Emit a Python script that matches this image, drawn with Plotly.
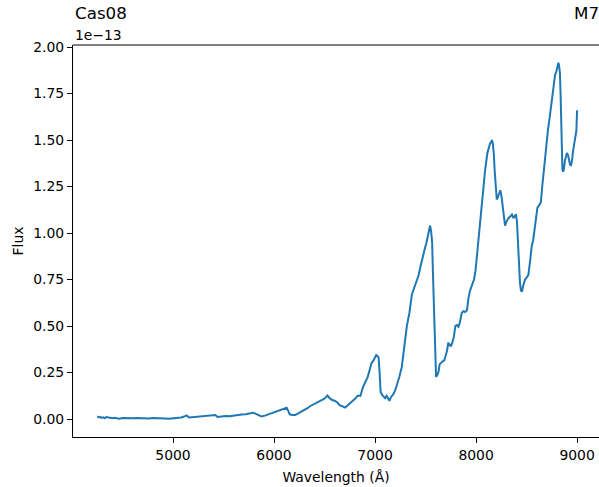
import plotly.graph_objects as go

# Spectrum of Cas08 (spectral type M7); flux in units of 1e-13
wavelength = [
    4250, 4265, 4280, 4295, 4310, 4325, 4340, 4360, 4380, 4400,
    4420, 4445, 4470, 4500, 4530, 4560, 4600, 4640, 4680, 4720,
    4760, 4800, 4840, 4880, 4920, 4960, 5000, 5040, 5080, 5110,
    5135, 5160, 5200, 5240, 5280, 5320, 5360, 5400, 5420, 5440,
    5480, 5520, 5560, 5600, 5640, 5680, 5720, 5760, 5790, 5810,
    5840, 5875, 5910, 5950, 5990, 6030, 6070, 6100, 6125, 6140,
    6155, 6180, 6210, 6240, 6270, 6300, 6330, 6360, 6390, 6420,
    6445, 6470, 6495, 6515, 6530, 6550, 6575, 6600, 6625, 6650,
    6675, 6705, 6730, 6755, 6780, 6805, 6830, 6855, 6880, 6905,
    6925, 6945, 6965, 6985, 7000, 7012, 7025, 7035, 7045, 7055,
    7070, 7085, 7100, 7115, 7130, 7142, 7160, 7180, 7200, 7220,
    7240, 7265, 7290, 7315, 7340, 7365, 7390, 7410, 7430, 7450,
    7470, 7490, 7510, 7530, 7545, 7555, 7565, 7575, 7585, 7595,
    7604, 7615, 7627, 7640, 7655, 7670, 7685, 7700, 7712, 7725,
    7738, 7750, 7765, 7780, 7795, 7810, 7825, 7840, 7858, 7874,
    7892, 7910, 7925, 7940, 7960, 7980, 7995, 8010, 8025, 8040,
    8055, 8072, 8090, 8112, 8125, 8138, 8150, 8158, 8166, 8175,
    8185, 8195, 8205, 8215, 8228, 8240, 8250, 8262, 8275, 8287,
    8300, 8320, 8340, 8355, 8370, 8385, 8395, 8405, 8415, 8425,
    8435, 8445, 8455, 8468, 8485, 8500, 8518, 8535, 8551, 8565,
    8580, 8595, 8607, 8625, 8641, 8655, 8667, 8685, 8700, 8713,
    8726, 8740, 8755, 8770, 8782, 8795, 8805, 8815, 8822, 8830,
    8836, 8841, 8848, 8855, 8862, 8870, 8880, 8890, 8900, 8910,
    8920, 8930, 8940, 8950, 8960, 8972, 8983, 8993, 9000,
]

flux_1e13 = [
    0.014, 0.010, 0.011, 0.006, 0.009, 0.005, 0.010, 0.007, 0.008, 0.004,
    0.007, 0.005, 0.002, 0.005, 0.004, 0.006, 0.004, 0.006, 0.004, 0.005,
    0.003, 0.005, 0.003, 0.004, 0.003, 0.002, 0.003, 0.005, 0.008, 0.013,
    0.019, 0.008, 0.010, 0.012, 0.011, 0.014, 0.016, 0.020, 0.021, 0.011,
    0.014, 0.016, 0.015, 0.019, 0.021, 0.024, 0.026, 0.029, 0.034, 0.030,
    0.021, 0.014, 0.018, 0.026, 0.033, 0.040, 0.048, 0.053, 0.060, 0.045,
    0.025, 0.022, 0.022, 0.030, 0.038, 0.046, 0.058, 0.070, 0.078, 0.088,
    0.092, 0.103, 0.108, 0.118, 0.126, 0.112, 0.102, 0.098, 0.090, 0.074,
    0.068, 0.062, 0.074, 0.088, 0.098, 0.110, 0.126, 0.124, 0.170, 0.200,
    0.222, 0.260, 0.300, 0.315, 0.330, 0.344, 0.338, 0.330, 0.250, 0.145,
    0.130, 0.118, 0.112, 0.124, 0.104, 0.098, 0.120, 0.132, 0.155, 0.185,
    0.226, 0.280, 0.390, 0.500, 0.570, 0.670, 0.710, 0.740, 0.770, 0.820,
    0.870, 0.910, 0.950, 1.000, 1.040, 1.010, 0.950, 0.750, 0.560, 0.300,
    0.227, 0.235, 0.250, 0.295, 0.305, 0.310, 0.315, 0.340, 0.365, 0.410,
    0.395, 0.390, 0.410, 0.440, 0.500, 0.505, 0.496, 0.520, 0.570, 0.580,
    0.575, 0.585, 0.650, 0.690, 0.720, 0.750, 0.800, 0.890, 0.980, 1.070,
    1.160, 1.250, 1.340, 1.430, 1.460, 1.480, 1.490, 1.500, 1.480, 1.430,
    1.330, 1.240, 1.180, 1.190, 1.210, 1.230, 1.205, 1.150, 1.070, 1.040,
    1.060, 1.080, 1.090, 1.100, 1.080, 1.095, 1.100, 1.060, 0.930, 0.820,
    0.730, 0.690, 0.685, 0.720, 0.750, 0.760, 0.775, 0.850, 0.930, 0.960,
    1.030, 1.110, 1.135, 1.150, 1.165, 1.250, 1.320, 1.420, 1.510, 1.560,
    1.610, 1.670, 1.730, 1.800, 1.850, 1.870, 1.890, 1.915, 1.900, 1.860,
    1.760, 1.620, 1.480, 1.340, 1.330, 1.345, 1.390, 1.420, 1.430, 1.420,
    1.385, 1.368, 1.365, 1.390, 1.440, 1.480, 1.510, 1.550, 1.660,
]

x_ticks = [5000, 6000, 7000, 8000, 9000]
y_ticks = [0.0, 0.25, 0.5, 0.75, 1.0, 1.25, 1.5, 1.75, 2.0]

star_name = "Cas08"
spectral_type = "M7"
offset_label = "1e\u221213"

FONT = "DejaVu Sans"
TICK_PX = 13.9
TITLE_PX = 16.7

fig = go.Figure()
fig.add_trace(go.Scatter(
    x=wavelength, y=flux_1e13, mode="lines",
    line=dict(color="#1f77b4", width=2),
    showlegend=False, hoverinfo="skip",
))

axis_common = dict(
    showgrid=False, zeroline=False, mirror=False,
    showline=True, linecolor="black", linewidth=1.1,
    ticks="outside", ticklen=5, tickwidth=1.1, tickcolor="black",
    tickfont=dict(family=FONT, size=TICK_PX, color="black"),
    showspikes=False,
)

fig.update_xaxes(
    range=[4010, 9217], tickvals=x_ticks, ticktext=[str(v) for v in x_ticks],
    title=dict(text="Wavelength (Å)", font=dict(family=FONT, size=TICK_PX, color="black"),
               standoff=10),
    **axis_common,
)
fig.update_yaxes(
    range=[-0.0968, 2.011], tickvals=y_ticks, ticktext=[f"{v:.2f}" for v in y_ticks],
    title=dict(text="Flux", font=dict(family=FONT, size=TICK_PX, color="black"),
               standoff=6),
    **axis_common,
)

fig.update_layout(
    template="none",
    width=599, height=487,
    margin=dict(l=73, r=0, t=45, b=50),
    paper_bgcolor="white", plot_bgcolor="white",
    font=dict(family=FONT, color="black"),
    shapes=[dict(type="line", xref="paper", yref="paper", x0=0, x1=1, y0=1, y1=1,
                 line=dict(color="black", width=1.1))],
    annotations=[
        dict(text=star_name, xref="paper", yref="paper", x=0, y=1.081,
             xanchor="left", yanchor="middle", showarrow=False,
             font=dict(family=FONT, size=TITLE_PX, color="black")),
        dict(text=spectral_type, xref="paper", yref="paper", x=1.0038, y=1.081,
             xanchor="right", yanchor="middle", showarrow=False,
             font=dict(family=FONT, size=TITLE_PX, color="black")),
        dict(text=offset_label, xref="paper", yref="paper", x=0, y=1.0255,
             xanchor="left", yanchor="middle", showarrow=False,
             font=dict(family=FONT, size=TICK_PX, color="black")),
    ],
)

fig.write_html("out.html")
